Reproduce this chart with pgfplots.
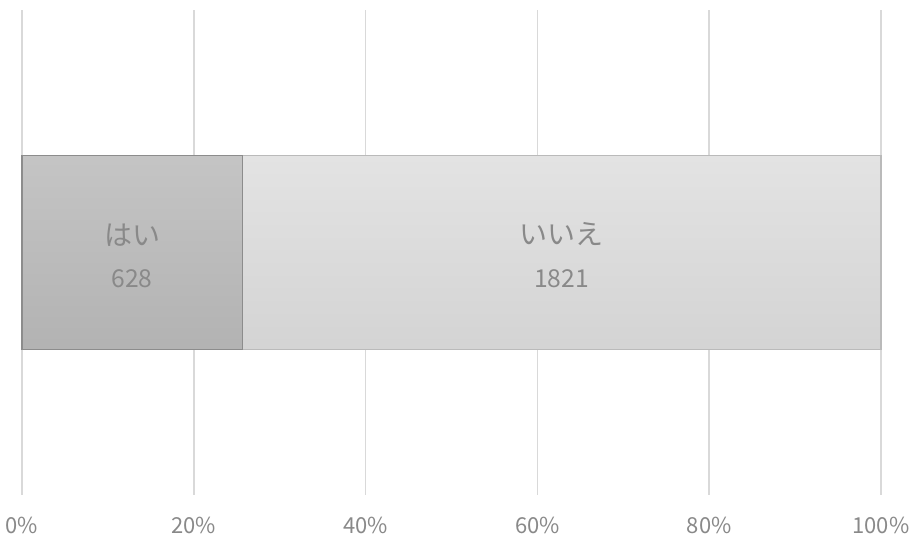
\documentclass[border=0pt]{standalone}
\usepackage{pgfplots}
\pgfplotsset{compat=1.18}
\usepackage{fontspec}
\setmainfont{Noto Sans CJK JP}
\definecolor{gridc}{HTML}{D9D9D9}
\definecolor{txt}{HTML}{898989}
\begin{document}
\begin{tikzpicture}
\path[use as bounding box] (-16.5pt,-35.25pt) rectangle (669.75pt,371.25pt);
\begin{axis}[
  at={(0,0)}, anchor=south west,
  scale only axis, width=644.25pt, height=363.75pt,
  xbar stacked, bar width=145.5pt,
  xmin=0, xmax=2449, ymin=-1.25, ymax=1.25,
  axis line style={draw=none},
  ytick=\empty,
  xtick={0,489.8,979.6,1469.4,1959.2,2449},
  xticklabels={0\%,20\%,40\%,60\%,80\%,100\%},
  xmajorgrids, grid style={gridc, line width=1.1pt},
  major tick length=0pt,
  tick label style={font=\fontsize{16.5}{18}\selectfont, text=txt},
  xticklabel style={yshift=-13pt},
  clip=false,
]
\addplot[draw=black!45, line width=0.8pt, top color=black!23, bottom color=black!30] coordinates {(628,0)};
\addplot[draw=black!27, line width=0.8pt, top color=black!11, bottom color=black!17] coordinates {(1821,0)};
\coordinate (a1) at (axis cs:314,0.088);
\coordinate (a2) at (axis cs:314,-0.134);
\coordinate (b1) at (axis cs:1538.5,0.093);
\coordinate (b2) at (axis cs:1538.5,-0.134);
\end{axis}
\node[text=txt, font=\fontsize{21}{24}\selectfont] at (a1) {はい};
\node[text=txt, font=\fontsize{18.5}{20}\selectfont] at (a2) {628};
\node[text=txt, font=\fontsize{21}{24}\selectfont] at (b1) {いいえ};
\node[text=txt, font=\fontsize{18.5}{20}\selectfont] at (b2) {1821};
\end{tikzpicture}
\end{document}
